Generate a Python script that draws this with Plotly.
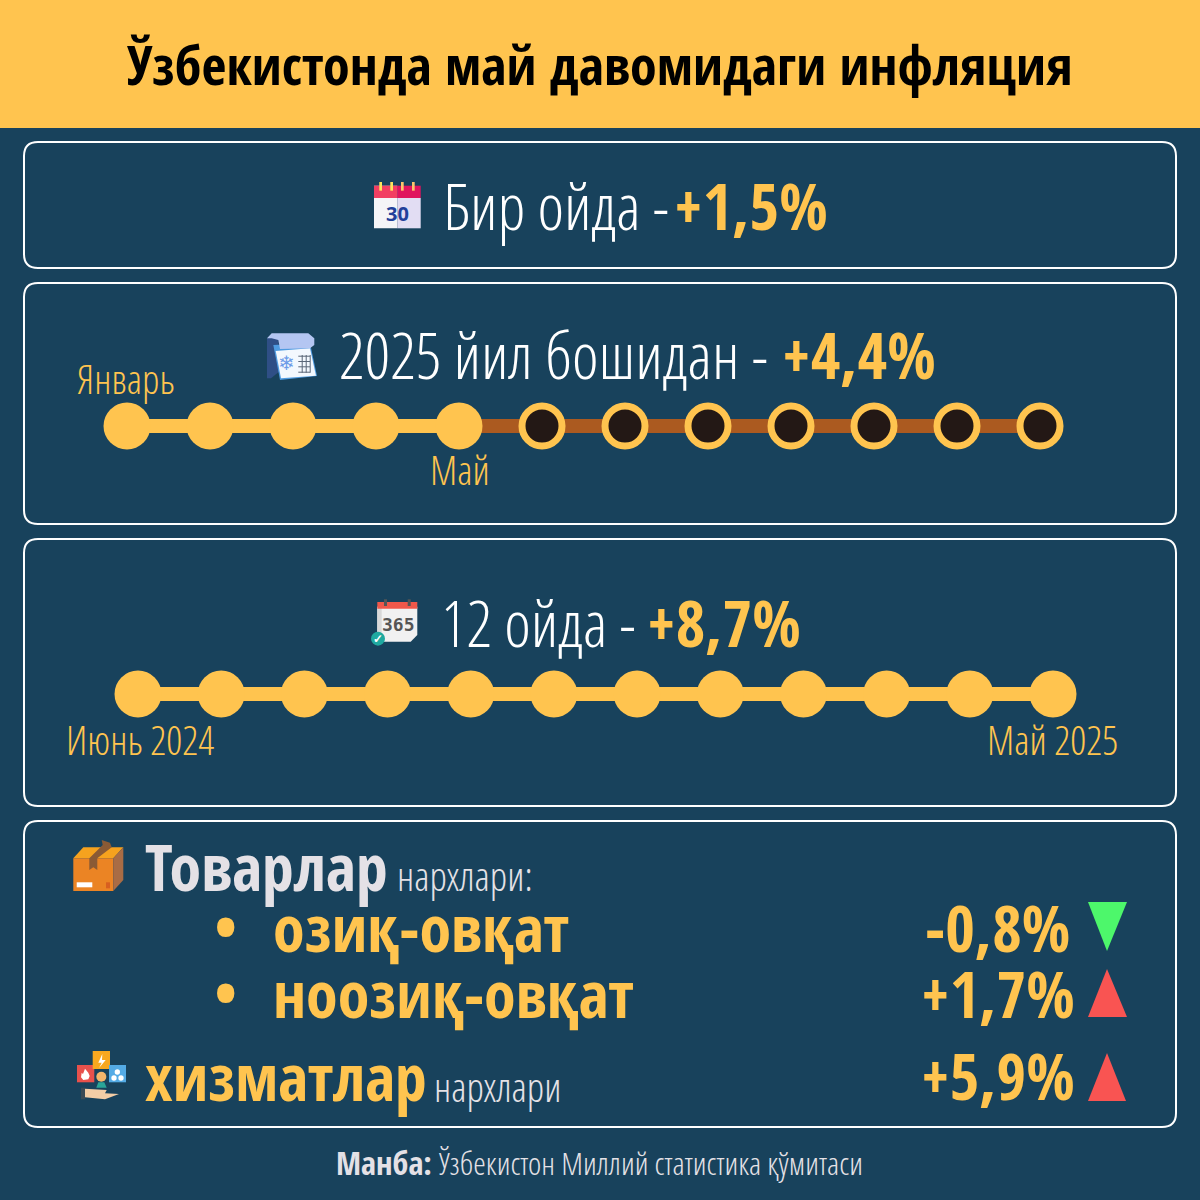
import plotly.graph_objects as go

TITLE = "Ўзбекистонда май давомидаги инфляция"
MONTHS_2025 = ["Январь","Февраль","Март","Апрель","Май","Июнь","Июль","Август","Сентябрь","Октябрь","Ноябрь","Декабрь"]
ELAPSED_2025 = [1,1,1,1,1,0,0,0,0,0,0,0]
MONTHS_12 = ["Июнь 2024","Июль 2024","Август 2024","Сентябрь 2024","Октябрь 2024","Ноябрь 2024","Декабрь 2024","Январь 2025","Февраль 2025","Март 2025","Апрель 2025","Май 2025"]
MONTH_VAL = "+1,5%"
YTD_VAL = "+4,4%"
Y12_VAL = "+8,7%"
FOOD_VAL = "-0,8%"
NONFOOD_VAL = "+1,7%"
SERV_VAL = "+5,9%"

BG="#18425C"; Y="#FFC44F"; BR="#AB5A20"; DK="#231815"; W="#FFFFFF"; GR="#E4E1E6"
F="'Open Sans Condensed',sans-serif"
FL="'Open Sans Condensed Light','Open Sans Light Condensed','Liberation Sans Narrow',sans-serif"

fig=go.Figure()
shapes=[]; ann=[]
def poly(pts,fill,ox=0,oy=0,s=1.0,line=None,lw=0):
    d="M"+" L".join(f"{ox+x*s:.1f},{oy+y*s:.1f}" for x,y in pts)+" Z"
    shapes.append(dict(type="path",path=d,xref="x",yref="y",fillcolor=fill,line=dict(color=line or fill,width=lw)))
def rect(x0,y0,x1,y1,fill,ox=0,oy=0,s=1.0):
    poly([(x0,y0),(x1,y0),(x1,y1),(x0,y1)],fill,ox,oy,s)
def circ(cx,cy,r,fill,ox=0,oy=0,s=1.0):
    shapes.append(dict(type="circle",xref="x",yref="y",x0=ox+(cx-r)*s,x1=ox+(cx+r)*s,y0=oy+(cy-r)*s,y1=oy+(cy+r)*s,fillcolor=fill,line=dict(width=0)))
def box(y0,y1,x0=24,x1=1176,r=14):
    d=(f"M{x0+r},{y0} L{x1-r},{y0} Q{x1},{y0} {x1},{y0+r} L{x1},{y1-r} Q{x1},{y1} {x1-r},{y1} "
       f"L{x0+r},{y1} Q{x0},{y1} {x0},{y1-r} L{x0},{y0+r} Q{x0},{y0} {x0+r},{y0} Z")
    shapes.append(dict(type="path",path=d,xref="x",yref="y",line=dict(color=W,width=2),fillcolor="rgba(0,0,0,0)"))
def text(x,y,t,size,color=W,anchor="left",bold=False,family=None):
    ann.append(dict(x=x,y=y,xref="x",yref="y",text=t,showarrow=False,xanchor=anchor,yanchor="middle",
                    font=dict(family=family or (F if bold else FL),size=size,color=color,weight=700 if bold else 400)))

# header and cards
rect(0,0,1200,128,Y)
for a,b in [(142,268),(283,524),(539,806),(821,1127)]:
    box(a,b)

# calendar icon (zoom coordinates: origin 360,170, scale 1/3)
o=(360,170,1/3)
rect(42,47,112,175,"#F5F5F7",*o); rect(112,84,182,175,"#E2DDF3",*o)
rect(42,47,112,84,"#F23F62",*o); rect(112,47,182,84,"#E0145E",*o)
for x,c in [(62,"#FFE45C"),(95,"#FFE45C"),(127,"#FFC36B"),(160,"#FFC36B")]:
    rect(x-4,36,x+4,62,c,*o)
text(397,213,"30",20,"#22409A","center",True,"'Open Sans',sans-serif")

# scroll icon
o=(255,325,1/3)
poly([(36,40),(70,30),(72,140),(48,160),(36,160)],"#2F4F86",*o)
poly([(55,60),(165,55),(186,153),(75,165)],"#4F9BE0",*o)
poly([(62,78),(165,70),(183,152),(78,160)],"#F3F8FE",*o)
poly([(36,40),(50,25),(160,25),(178,40),(178,60),(165,70),(75,72),(70,45),(50,40)],"#B4C6F2",*o)
text(286,362,"❄",20,"#6D9BE8","center")
for y in [92,108,124,140]:
    rect(130,y,165,y+3,"#5A6678",*o)
for x in [140,152,164]:
    rect(x,90,x+3,143,"#5A6678",*o)

# 365 icon
o=(360,590,1/3)
poly([(52,50),(172,50),(172,135),(152,155),(52,155)],"#F1F1F1",*o)
rect(52,50,65,155,"#D8D8D8",*o)
rect(52,36,172,56,"#F0584A",*o)
rect(72,28,81,48,"#555555",*o); rect(143,28,152,48,"#555555",*o)
text(398,624,"365",18,"#555555","center",True,"'DejaVu Sans Mono',monospace")
circ(54,146,21,"#1FA9A0",*o)
text(378,638,"✓",12,W,"center",True)

# box icon
o=(60,830,1/3)
poly([(40,85),(70,52),(190,52),(160,85)],"#F6A21E",*o)
rect(40,85,160,183,"#EB8424",*o)
poly([(160,85),(190,52),(190,150),(160,183)],"#A96C45",*o)
poly([(88,85),(128,45),(125,30),(150,38),(155,52),(112,85),(112,120),(100,112),(88,120)],"#8A5A35",*o)
rect(50,157,97,172,"#FFFFFF",*o)
rect(138,157,150,175,"#D85F20",*o)

# services icon
o=(65,1040,1/3)
rect(36,75,88,127,"#E8514C",*o); rect(83,33,135,87,"#F9A81F",*o); rect(132,75,183,127,"#54ABE5",*o)
poly([(60,86),(70,98),(74,108),(70,118),(55,120),(48,112),(50,98),(54,102)],"#FFFFFF",*o)
poly([(112,42),(100,68),(110,68),(102,84),(122,60),(111,60)],"#FFFFFF",*o)
for cx,cy,r in [(157,96,8),(147,114,8),(168,114,8)]:
    circ(cx,cy,r,"#FFFFFF",*o)
circ(109,110,15,"#F5B66B",*o)
poly([(94,143),(100,127),(118,127),(125,143)],"#2AA598",*o)
rect(48,143,60,178,"#3A4A55",*o)
poly([(60,146),(125,150),(120,160),(162,162),(120,178),(60,172)],"#F3CDA6",*o)

# text rows
text(600,64,TITLE,54,"#000000","center",True)
text(441,205,"Бир ойда -",64)
text(671.5,205,MONTH_VAL,64,Y,bold=True)
text(337,354,"2025 йил бошидан -",64)
text(780,354,YTD_VAL,64,Y,bold=True)
text(126,378,"Январь",40,Y,"center")
text(460,469,"Май",40,Y,"center")
text(439,622,"12 ойда -",64)
text(645,622,Y12_VAL,64,Y,bold=True)
text(140,739,"Июнь 2024",40,Y,"center")
text(1052,739,"Май 2025",40,Y,"center")
text(143,866,"Товарлар",64,GR,bold=True)
text(395,875,"нархлари:",40,GR)
text(225,926,"•",64,Y,"center",True)
text(271,927,"озиқ-овқат",64,Y,bold=True)
text(1072,927,FOOD_VAL,64,Y,"right",True)
text(225,992,"•",64,Y,"center",True)
text(271,993,"ноозиқ-овқат",64,Y,bold=True)
text(1077,993,NONFOOD_VAL,64,Y,"right",True)
text(143,1076,"хизматлар",64,Y,bold=True)
text(432,1086,"нархлари",40,GR)
text(1077,1075,SERV_VAL,64,Y,"right",True)
text(334,1162,"Манба:",32,GR,bold=True)
text(437,1162,"Ўзбекистон Миллий статистика қўмитаси",32,GR)

# trend triangles
poly([(1088,902),(1127,902),(1107,951)],"#4DF76B")
poly([(1107,969),(1127,1017),(1088,1017)],"#F95452")
poly([(1107,1053),(1126,1101),(1088,1101)],"#F95452")

# timelines, via their own axes
done=[m for m,e in zip(MONTHS_2025,ELAPSED_2025) if e]
todo=[m for m,e in zip(MONTHS_2025,ELAPSED_2025) if not e]
row=lambda v:[0]*len(v)
fig.add_trace(go.Scatter(x=[done[-1]]+todo,y=row([done[-1]]+todo),xaxis="x2",yaxis="y2",mode="lines",line=dict(color=BR,width=14),cliponaxis=False,showlegend=False,hoverinfo="x"))
fig.add_trace(go.Scatter(x=done,y=row(done),xaxis="x2",yaxis="y2",mode="lines+markers",line=dict(color=Y,width=14),marker=dict(size=47,color=Y),cliponaxis=False,showlegend=False,hoverinfo="x"))
fig.add_trace(go.Scatter(x=todo,y=row(todo),xaxis="x2",yaxis="y2",mode="markers",marker=dict(size=40,color=DK,line=dict(color=Y,width=7)),cliponaxis=False,showlegend=False,hoverinfo="x"))
fig.add_trace(go.Scatter(x=MONTHS_12,y=row(MONTHS_12),xaxis="x3",yaxis="y3",mode="lines+markers",line=dict(color=Y,width=14),marker=dict(size=47,color=Y),cliponaxis=False,showlegend=False,hoverinfo="x"))

ax=dict(visible=False,fixedrange=True)
fig.update_layout(
    width=1200,height=1200,margin=dict(l=0,r=0,t=0,b=0),paper_bgcolor=BG,plot_bgcolor=BG,showlegend=False,
    xaxis=dict(range=[0,1200],domain=[0,1],**ax),
    yaxis=dict(range=[1200,0],domain=[0,1],**ax),
    xaxis2=dict(type="category",categoryorder="array",categoryarray=MONTHS_2025,range=[0,11],domain=[127/1200,1040/1200],anchor="y2",**ax),
    yaxis2=dict(range=[-1,1],domain=[1-436/1200,1-416/1200],anchor="x2",**ax),
    xaxis3=dict(type="category",categoryorder="array",categoryarray=MONTHS_12,range=[0,11],domain=[138/1200,1053/1200],anchor="y3",**ax),
    yaxis3=dict(range=[-1,1],domain=[1-704/1200,1-684/1200],anchor="x3",**ax),
    shapes=shapes,annotations=ann)
fig.write_html("out.html",config=dict(displayModeBar=False),post_script="document.body.style.margin='0';document.body.style.background='#18425C';")
